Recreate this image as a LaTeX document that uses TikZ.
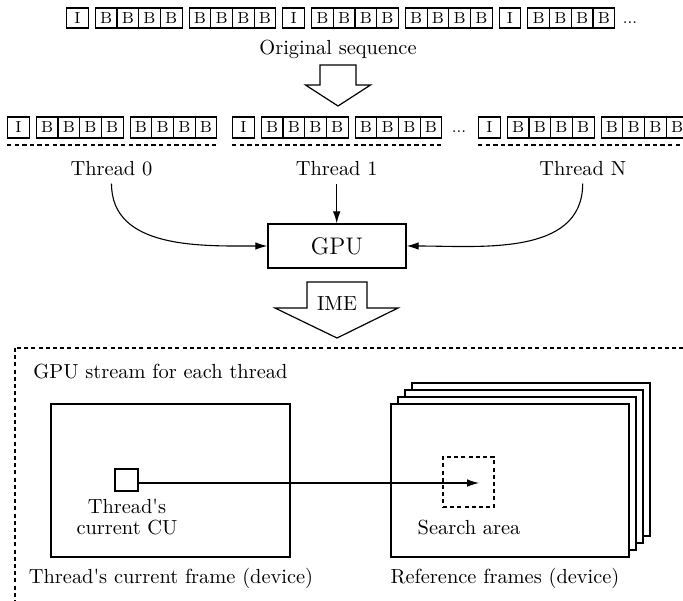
\documentclass[tikz,border=0pt]{standalone}
\usetikzlibrary{arrows.meta}
\begin{document}
\begin{tikzpicture}[x=0.5pt,y=-0.5pt,
  every node/.style={font=\fontsize{10.2}{12}\selectfont},
  cell/.style={draw, line width=0.55pt, minimum width=10.85pt, minimum height=10pt, inner sep=0pt, anchor=west, font=\fontsize{8}{9}\selectfont},
  tcell/.style={cell, minimum height=10.5pt},
  dotsnode/.style={inner sep=0pt, anchor=base, font=\fontsize{8}{9}\selectfont},
  lbl/.style={inner sep=3.5pt},
  conn/.style={line width=0.55pt, -{Latex[length=6pt,width=3.8pt]}},
  hollow/.style={draw, line width=0.6pt, fill=white},
  rowline/.style={line width=0.65pt, dash pattern=on 2.2pt off 1.6pt},
  framebox/.style={draw, line width=0.55pt, dash pattern=on 2pt off 1.6pt},
  picframe/.style={draw, fill=white, line width=0.65pt, minimum width=119pt, minimum height=76.5pt, inner sep=0pt},
  plainbox/.style={draw, line width=0.65pt, inner sep=0pt}
]
\useasboundingbox (0,0) rectangle (683,600);
\clip (0,0) rectangle (683,600);

% original sequence
\foreach [count=\n] \xx/\lab in {66/I, 94.7/B, 116.4/B, 138.1/B, 159.8/B, 188.5/B, 210.2/B, 231.9/B, 253.6/B, 282.3/I, 311/B, 332.7/B, 354.4/B, 376.1/B, 404.8/B, 426.5/B, 448.2/B, 469.9/B, 498.6/I, 527.3/B, 549/B, 570.7/B, 592.4/B}
  \node[cell] (s\n) at (\xx,18) {\lab};
\node[dotsnode] (sdots) at (630,23.3) {...};
\node (orig) at (338,49) {Original sequence};

% hollow arrow
\draw[hollow] (320,65) -- (356,65) -- (356,85) -- (370.5,85) -- (338,106) -- (305.5,85) -- (320,85) -- cycle;

% thread rows
\foreach \row/\sx in {a/7, b/232, c/478} {
  \foreach [count=\n] \dx/\lab in {0/I, 28.7/B, 50.4/B, 72.1/B, 93.8/B, 122.5/B, 144.2/B, 165.9/B, 187.6/B}
    \node[tcell] (\row\n) at (\sx+\dx,127.5) {\lab};
  \draw[rowline] (\sx,145) -- (\sx+209.3,145);
}
\node[dotsnode] (tdots) at (459,132.8) {...};

\node[lbl] (th0) at (111.5,169) {Thread 0};
\node[lbl] (th1) at (336.7,169) {Thread 1};
\node[lbl] (thN) at (582.7,169) {Thread N};

% GPU
\node[plainbox, minimum width=69pt, minimum height=22pt, font=\fontsize{12}{14}\selectfont] (gpu) at (337,246) {GPU};
\draw[conn] (th0.south) to[out=-90,in=180] (gpu.west);
\draw[conn] (th1.south) -- (th1.south |- gpu.north);
\draw[conn] (thN.south) to[out=-90,in=0] (gpu.east);

% IME arrow
\draw[hollow] (307,282) -- (367,282) -- (367,308) -- (398,308) -- (337,338) -- (275,308) -- (307,308) -- cycle;
\node (ime) at (337,304) {IME};

% GPU stream frame
\draw[framebox] (15,348) rectangle (700,620);
\node[anchor=west, inner sep=0pt] (gs) at (33,372) {GPU stream for each thread};

% current frame
\node[plainbox, minimum width=119.5pt, minimum height=76.5pt] (cf) at (170.5,480.5) {};
\node[plainbox, minimum width=11.5pt, minimum height=11pt] (cu) at (126.5,480) {};
\node[align=center, font=\fontsize{10.2}{10.5}\selectfont] (cul) at (127,517.5) {Thread\textquotesingle s\\current CU};

% reference frames
\node[picframe] (rf4) at (531,459.5) {};
\node[picframe] (rf3) at (524,466.5) {};
\node[picframe] (rf2) at (517,473.5) {};
\node[picframe] (rf1) at (510,480.5) {};
\node[draw, line width=0.6pt, dash pattern=on 2pt off 1.6pt, minimum width=25.5pt, minimum height=25pt, inner sep=0pt] (sa) at (468.5,482) {};
\node (sal) at (469,528) {Search area};

\coordinate (tipS) at (479,483);
\draw[conn] (cu.east |- tipS) -- (tipS);

\node (cfl) at (171,578) {Thread\textquotesingle s current frame (device)};
\node (rfl) at (505,578) {Reference frames (device)};
\end{tikzpicture}
\end{document}
